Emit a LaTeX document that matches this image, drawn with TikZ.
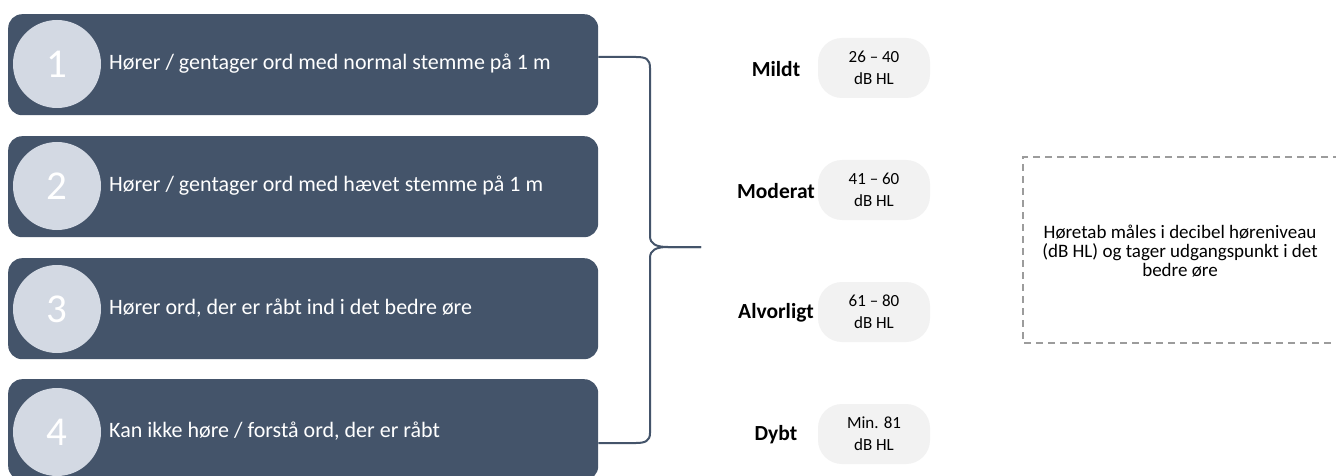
\documentclass[tikz,border=0pt]{standalone}
\usepackage{fontspec}
\setmainfont{Carlito}
\definecolor{boxblue}{HTML}{44546A}
\definecolor{circfill}{HTML}{D3D9E3}
\definecolor{pillfill}{HTML}{F2F2F2}
\definecolor{dashgray}{HTML}{9C9C9C}
\begin{document}
\begin{tikzpicture}[x=1pt,y=-1pt,
  stepbox/.style={draw=none,fill=boxblue,rounded corners=14pt,minimum width=590pt,minimum height=101pt,anchor=north west,inner sep=0pt},
  numcirc/.style={circle,fill=circfill,minimum size=88pt,inner sep=0pt,text=white,font=\fontsize{41}{44}\selectfont},
  steptext/.style={anchor=west,text=white,font=\fontsize{22}{26}\selectfont,inner sep=0pt},
  grade/.style={font=\bfseries\fontsize{21.5}{24}\selectfont,inner sep=0pt},
  pill/.style={fill=pillfill,rounded corners=24pt,minimum width=112pt,minimum height=60pt,align=center,font=\fontsize{17}{22}\selectfont,inner sep=0pt},
  brace/.style={draw=boxblue,line width=2pt,line join=round}
]
\clip (0,0) rectangle (1336,476);
\fill[white] (0,0) rectangle (1336,476);
% boxes
\node[stepbox] (b1) at (8,14) {};
\node[stepbox] (b2) at (8,136) {};
\node[stepbox] (b3) at (8,258) {};
\node[stepbox] (b4) at (8,379) {};
\node[numcirc] (c1) at (57,64) {1};
\node[numcirc] (c2) at (57,186) {2};
\node[numcirc] (c3) at (57,309) {3};
\node[numcirc] (c4) at (57,432) {4};
\node[steptext] (t1) at (109,64) {Hører / gentager ord med normal stemme på 1 m};
\node[steptext] (t2) at (109,186) {Hører / gentager ord med hævet stemme på 1 m};
\node[steptext] (t3) at (109,308) {Hører ord, der er råbt ind i det bedre øre};
\node[steptext] (t4) at (109,431) {Kan ikke høre / forstå ord, der er råbt};
% brace
\coordinate (bt) at (b1.east |- 0,57);
\coordinate (bb) at (b4.east |- 0,443);
\coordinate (tip) at (701,247);
\draw[brace] (bt) -- (636,57) .. controls (646,57) and (650,59) .. (650,68)
  -- (650,236) .. controls (650,244) and (656,247) .. (668,247) -- (tip);
\draw[brace] (tip) -- (668,247) .. controls (656,247) and (650,250) .. (650,258)
  -- (650,433) .. controls (650,441) and (645,443) .. (636,443) -- (bb);
% grades
\node[grade] (g1) at (776,69) {Mildt};
\node[grade] (g2) at (776,191) {Moderat};
\node[grade] (g3) at (776,313) {Alvorligt};
\node[grade] (g4) at (776,435) {Dybt};
\node[pill] (p1) at (874,68) {26 – 40\\dB HL};
\node[pill] (p2) at (874,190) {41 – 60\\dB HL};
\node[pill] (p3) at (874,312) {61 – 80\\dB HL};
\node[pill] (p4) at (874,434) {Min. 81\\dB HL};
% note
\draw[dashgray,line width=1.5pt,dash pattern=on 7pt off 5pt] (1340,157) -- (1023,157) -- (1023,343) -- (1340,343);
\node[align=center,font=\fontsize{19}{18.8}\selectfont,inner sep=0pt] (note) at (1180,251) {Høretab måles i decibel høreniveau\\(dB HL) og tager udgangspunkt i det\\bedre øre};
\end{tikzpicture}
\end{document}
